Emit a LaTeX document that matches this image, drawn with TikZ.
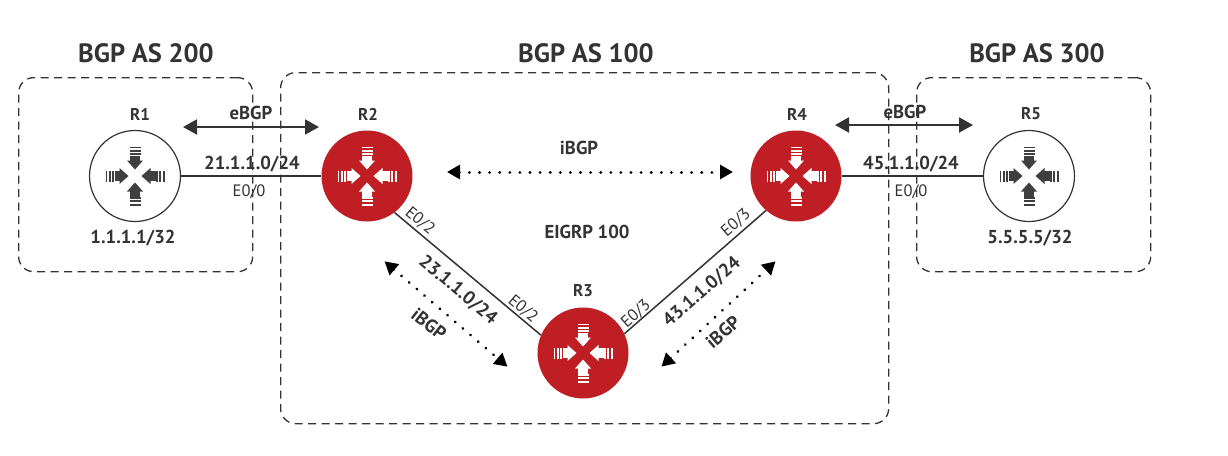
\documentclass[tikz,border=0pt]{standalone}
\usepackage{fontspec}
\setmainfont{PT Sans}
\usetikzlibrary{arrows.meta}
\definecolor{routerred}{HTML}{BE1E24}
\definecolor{inkdark}{HTML}{333333}
\definecolor{glyphdark}{HTML}{3F3F3F}
\tikzset{
  x=1pt,y=-1pt,
  routerbase/.style={circle,minimum size=91pt,inner sep=0pt},
  redrouter/.style={routerbase,fill=routerred},
  whiterouter/.style={routerbase,draw=inkdark,line width=1.2pt,fill=white},
  asbox/.style={draw=inkdark,line width=1.3pt,dash pattern=on 8pt off 5.5pt,rounded corners=15pt,inner sep=0pt,anchor=north west},
  heading/.style={font=\fontsize{26.5}{29}\selectfont\bfseries,text=inkdark,inner sep=0pt},
  routername/.style={font=\fontsize{17}{19}\selectfont\bfseries,text=inkdark,inner sep=0pt},
  namelabel/.style={font=\fontsize{18.7}{21}\selectfont\bfseries,text=inkdark,inner sep=0pt},
  iflabel/.style={font=\fontsize{16.5}{18}\selectfont,text=inkdark,inner sep=0pt},
  linkline/.style={draw=inkdark,line width=1.5pt},
  solidbi/.style={draw=inkdark,line width=2pt,{Triangle[length=14pt,width=15pt]}-{Triangle[length=14pt,width=15pt]}},
  dotbi/.style={draw=black,line width=3pt,line cap=round,dash pattern=on 0.1pt off 10pt,{Triangle[length=13pt,width=14pt]}-{Triangle[length=13pt,width=14pt]},shorten <=2pt,shorten >=2pt},
  pics/routerglyph/.style={code={
    \foreach \a in {0,90,180,270}{
      \begin{scope}[rotate=\a]
        \fill[#1] (-4.8,-20.5) rectangle (4.8,-15);
        \fill[#1] (-8,-15.5) -- (8,-15.5) -- (0,-6.5) -- cycle;
        \fill[#1] (-5.5,-23) rectangle (5.5,-21.4);
        \fill[#1] (-5.5,-26.2) rectangle (5.5,-24.4);
        \fill[#1] (-5.5,-29.5) rectangle (5.5,-27.6);
      \end{scope}
    }
  }},
}
\begin{document}
\begin{tikzpicture}
\useasboundingbox (0,0) rectangle (1228,455);
\fill[white] (0,0) rectangle (1228,455);
% AS boxes
\node[asbox,minimum width=234pt,minimum height=194pt] (as200) at (18,77) {};
\node[asbox,minimum width=608pt,minimum height=351pt] (as100) at (280,72) {};
\node[asbox,minimum width=234pt,minimum height=194pt] (as300) at (916,77) {};
% routers
\node[whiterouter] (r1) at (135,176) {};
\node[redrouter] (r2) at (367,176) {};
\node[redrouter] (r3) at (583,353) {};
\node[redrouter] (r4) at (796,176) {};
\node[whiterouter] (r5) at (1029,176) {};
\pic at (r1) {routerglyph=glyphdark};
\pic at (r2) {routerglyph=white};
\pic at (r3) {routerglyph=white};
\pic at (r4) {routerglyph=white};
\pic at (r5) {routerglyph=glyphdark};
% links
\draw[linkline] (r1) -- (r2);
\draw[linkline] (r4) -- (r5);
\draw[linkline] (r2.-53) -- (r3.157);
\draw[linkline] (r4.229) -- (r3.25);
% relation arrows
\coordinate (eb1a) at (183,127); \coordinate (eb1b) at (319,127);
\coordinate (eb2a) at (835,125); \coordinate (eb2b) at (973,125);
\coordinate (ib1a) at (445,172); \coordinate (ib1b) at (735,172);
\coordinate (ib2a) at (383,260); \coordinate (ib2b) at (509,368);
\coordinate (ib3a) at (660,368); \coordinate (ib3b) at (777,260);
\draw[solidbi] (eb1a) -- (eb1b);
\draw[solidbi] (eb2a) -- (eb2b);
\draw[dotbi] (ib1a) -- (ib1b);
\draw[dotbi] (ib2a) -- (ib2b);
\draw[dotbi] (ib3a) -- (ib3b);
% headings
\node[heading] (h200) at (146,53) {BGP AS 200};
\node[heading] (h100) at (586,53) {BGP AS 100};
\node[heading] (h300) at (1037,53) {BGP AS 300};
% router names
\node[routername] (n1) at (140,114) {R1};
\node[routername] (n2) at (368,114) {R2};
\node[routername] (n3) at (583,291) {R3};
\node[routername] (n4) at (797,114) {R4};
\node[routername] (n5) at (1031,114) {R5};
% labels
\node[namelabel] (l1) at (133,238) {1.1.1.1/32};
\node[namelabel] (l5) at (1030,238) {5.5.5.5/32};
\node[namelabel] (le1) at (251,113) {eBGP};
\node[namelabel] (le2) at (905,112) {eBGP};
\node[namelabel] (li1) at (579,148) {iBGP};
\node[namelabel] (leigrp) at (587,232) {EIGRP 100};
\node[namelabel] (lnet1) at (252,164) {21.1.1.0/24};
\node[namelabel] (lnet2) at (911,164) {45.1.1.0/24};
\node[iflabel] (if1) at (249,192) {E0/0};
\node[iflabel] (if2) at (911,192) {E0/0};
\node[namelabel,rotate=-40] (lnet3) at (458,290) {23.1.1.0/24};
\node[namelabel,rotate=41] (lnet4) at (702,292) {43.1.1.0/24};
\node[namelabel,rotate=-38] (li2) at (429,324) {iBGP};
\node[namelabel,rotate=41] (li3) at (723,332) {iBGP};
\node[iflabel,rotate=-40] (if3) at (420,221) {E0/2};
\node[iflabel,rotate=-40] (if4) at (523,309) {E0/2};
\node[iflabel,rotate=41] (if5) at (636,314) {E0/3};
\node[iflabel,rotate=41] (if6) at (736,223) {E0/3};
\end{tikzpicture}
\end{document}
